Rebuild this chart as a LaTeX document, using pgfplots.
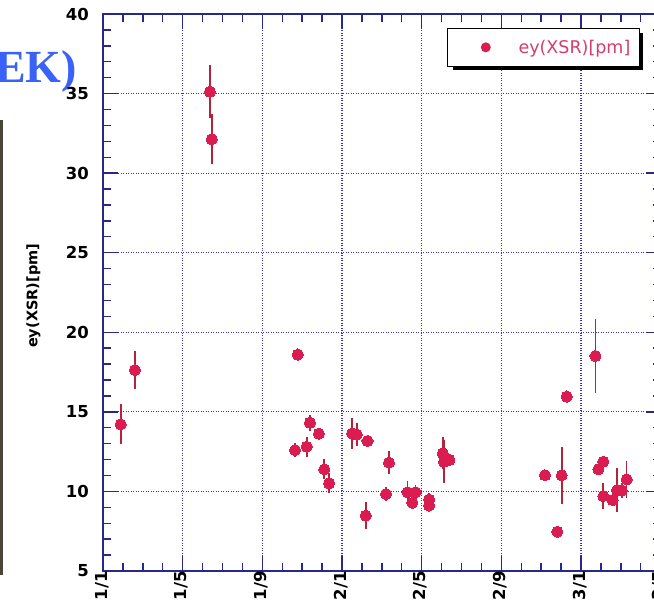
\documentclass[border=0pt]{standalone}
\usepackage{fontspec}
\setmainfont{DejaVu Sans}
\newfontfamily\headserif{Liberation Serif}
\usepackage{pgfplots}
\pgfplotsset{compat=1.18}
\usepackage{pgfplotstable}

\definecolor{axisnavy}{RGB}{40,40,140}
\definecolor{gridnavy}{RGB}{52,52,165}
\definecolor{markred}{RGB}{218,28,80}
\definecolor{barred}{RGB}{178,36,58}
\definecolor{legtext}{RGB}{212,62,108}
\definecolor{headblue}{RGB}{58,98,246}
\definecolor{stripdark}{RGB}{72,70,54}

% day index (minor tick = 1), vertical emittance [pm], error
\pgfplotstableread{
x     y      e
0.89  14.22  1.25
1.60  17.63  1.20
5.37  35.12  1.65
5.46  32.13  1.57
9.64  12.60  0.42
9.78  18.60  0.20
10.23 12.81  0.63
10.39 14.32  0.50
10.84 13.63  0.20
11.11 11.39  0.63
11.35 10.51  0.63
12.51 13.65  0.96
12.74 13.57  0.73
13.19  8.48  0.86
13.28 13.17  0.15
14.21  9.84  0.45
14.36 11.81  0.70
15.29  9.95  0.72
15.53  9.29  0.20
15.69  9.95  0.48
16.37  9.49  0.40
16.37  9.12  0.30
17.06 12.40  1.00
17.12 11.87  1.35
17.39 11.98  0.20
22.19 11.02  0.15
22.81  7.47  0.15
23.03 11.02  1.78
23.28 15.96  0.15
24.72 18.51  2.35
24.87 11.40  0.20
25.12 11.87  0.20
25.12  9.71  0.84
25.59  9.46  0.20
25.82 10.09  1.36
26.04 10.06  0.50
26.29 10.75  1.14
}\xsrdata

\begin{document}
\begin{tikzpicture}
\useasboundingbox (0bp,0bp) rectangle (654bp,609bp);
\clip (0bp,0bp) rectangle (654bp,609bp);
\fill[stripdark] (0bp,34bp) rectangle (2.6bp,489bp);
\node[anchor=base east, inner sep=0pt, text=headblue,
      font=\headserif\bfseries\fontsize{46bp}{50bp}\selectfont] at (77bp,526bp) {EK)};
\begin{axis}[
  at={(103bp,38bp)}, anchor=south west,
  scale only axis, width=557.7bp, height=557bp,
  xmin=0, xmax=28, ymin=5, ymax=40,
  xtick={0,4,...,28},
  xticklabels={1/1,1/5,1/9,2/1,2/5,2/9,3/1,3/5},
  ytick={5,10,...,40},
  minor x tick num=3, minor y tick num=4,
  tick align=inside,
  major tick length=15bp, minor tick length=8bp,
  axis line style={axisnavy, line width=2bp},
  tick style={axisnavy, line width=1.4bp},
  grid=major,
  major grid style={gridnavy, line width=1.1bp, dash pattern=on 1bp off 1.5bp},
  /pgf/number format/assume math mode=true,
  ticklabel style={font=\bfseries\fontsize{16.5bp}{19bp}\selectfont, text=black},
  yticklabel style={inner sep=0pt, xshift=-14bp},
  xticklabel style={rotate=90, anchor=base east, inner sep=0pt, yshift=-4bp},
  ylabel={ey(XSR)[pm]},
  ylabel style={at={(axis description cs:-0.1246,0.494)}, anchor=center,
                font=\bfseries\fontsize{14.5bp}{16bp}\selectfont},
  legend style={at={(0.9617,0.9743)}, anchor=north east,
    draw=black, line width=1.3bp, fill=white,
    inner sep=0pt, outer sep=0pt, column sep=0pt,
    nodes={inner sep=0pt, text depth=0pt, draw=none},
    font=\fontsize{17.5bp}{19bp}\selectfont\color{legtext}},
]
% drop shadow behind the legend box
\fill[black] (axis description cs:0.6281,0.8986) rectangle (axis description cs:0.9688,0.9662);
\addplot[only marks, mark=*, mark size=5.6bp,
  mark options={fill=markred, draw=markred, line width=0pt},
  legend image code/.code={
    \path[draw=none, fill=none] (0bp,-19bp) rectangle (70.7bp,19bp);
    \fill[markred, draw=none] (38bp,0bp) circle (5bp);},
  error bars/.cd, y dir=both, y explicit, error mark=none,
  error bar style={barred, line width=1.7bp}]
  table[x=x, y=y, y error=e] {\xsrdata};
\addlegendentry{ey(XSR)[pm]\hspace*{9bp}\mbox{}}
\end{axis}
\end{tikzpicture}
\end{document}
